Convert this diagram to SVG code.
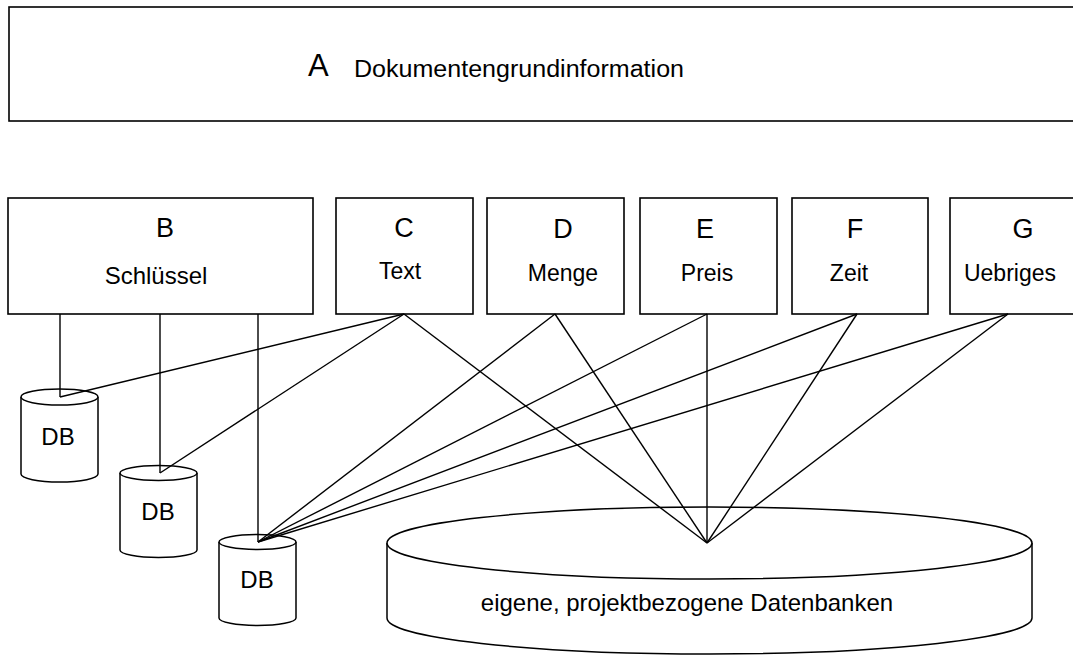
<svg xmlns="http://www.w3.org/2000/svg" width="1073" height="655" viewBox="0 0 1073 655">
<style>
.box{fill:#fff;stroke:#000;stroke-width:1.6}
.cyl{fill:#fff;stroke:#000;stroke-width:1.5}
.ln{stroke:#000;stroke-width:1.4;fill:none}
text{font-family:"Liberation Sans",Arial,sans-serif;fill:#000}
.lt{font-size:27px;text-anchor:middle}
.lb{font-size:23px;text-anchor:middle}
.db{font-size:24px;text-anchor:middle}
</style>
<rect width="1073" height="655" fill="#fff"/>
<g id="nodeA">
<rect class="box" x="9" y="7" width="1100" height="114"/>
<text x="308" y="76" font-size="31">A</text>
<text x="354" y="77" font-size="23" textLength="330" lengthAdjust="spacingAndGlyphs">Dokumentengrundinformation</text>
</g>
<g id="nodeB">
<rect class="box" x="8" y="198" width="305" height="116"/>
<text class="lt" x="165" y="237">B</text>
<text class="lb" x="156" y="284" font-size="24" style="font-size:24px">Schlüssel</text>
</g>
<g id="nodeC">
<rect class="box" x="336" y="198" width="137" height="116"/>
<text class="lt" x="404" y="237">C</text>
<text class="lb" x="400" y="279">Text</text>
</g>
<g id="nodeD">
<rect class="box" x="487" y="198" width="137" height="116"/>
<text class="lt" x="563" y="238">D</text>
<text class="lb" x="563" y="281">Menge</text>
</g>
<g id="nodeE">
<rect class="box" x="640" y="198" width="137" height="116"/>
<text class="lt" x="705" y="238">E</text>
<text class="lb" x="707" y="281">Preis</text>
</g>
<g id="nodeF">
<rect class="box" x="792" y="198" width="136" height="116"/>
<text class="lt" x="855" y="238">F</text>
<text class="lb" x="849" y="281">Zeit</text>
</g>
<g id="nodeG">
<rect class="box" x="950" y="198" width="140" height="116"/>
<text class="lt" x="1023" y="238">G</text>
<text class="lb" x="1010" y="281">Uebriges</text>
</g>
<g id="db1">
<path class="cyl" d="M21,397 L21,474 A38.5,8 0 0 0 98,474 L98,397"/>
<ellipse class="cyl" cx="59.5" cy="397" rx="38.5" ry="8"/>
<text class="db" x="58" y="445">DB</text>
</g>
<g id="db2">
<path class="cyl" d="M120,473 L120,550 A38.5,7.5 0 0 0 197,550 L197,473"/>
<ellipse class="cyl" cx="158.5" cy="473" rx="38.5" ry="7.5"/>
<text class="db" x="158" y="520">DB</text>
</g>
<g id="db3">
<path class="cyl" d="M219,542 L219,618 A38.5,7.5 0 0 0 296,618 L296,542"/>
<ellipse class="cyl" cx="257.5" cy="542" rx="38.5" ry="7.5"/>
<text class="db" x="257" y="588">DB</text>
</g>
<g id="dbBig">
<path class="cyl" d="M387,543 L387,618 A322.5,36 0 0 0 1032,618 L1032,543"/>
<ellipse class="cyl" cx="709.5" cy="543" rx="322.5" ry="36"/>
<text x="687" y="611" font-size="24" text-anchor="middle">eigene, projektbezogene Datenbanken</text>
</g>
<g id="connectors" class="ln">
<line x1="60" y1="314" x2="60" y2="397"/>
<line x1="160" y1="314" x2="160" y2="473"/>
<line x1="258" y1="314" x2="258" y2="542"/>
<line x1="404" y1="314" x2="60" y2="397"/>
<line x1="404" y1="314" x2="160" y2="473"/>
<line x1="404" y1="314" x2="707" y2="543"/>
<line x1="555" y1="314" x2="258" y2="542"/>
<line x1="555" y1="314" x2="707" y2="543"/>
<line x1="707" y1="314" x2="258" y2="542"/>
<line x1="707" y1="314" x2="707" y2="543"/>
<line x1="857" y1="314" x2="258" y2="542"/>
<line x1="857" y1="314" x2="707" y2="543"/>
<line x1="1008" y1="314" x2="258" y2="542"/>
<line x1="1008" y1="314" x2="707" y2="543"/>
</g>
</svg>
